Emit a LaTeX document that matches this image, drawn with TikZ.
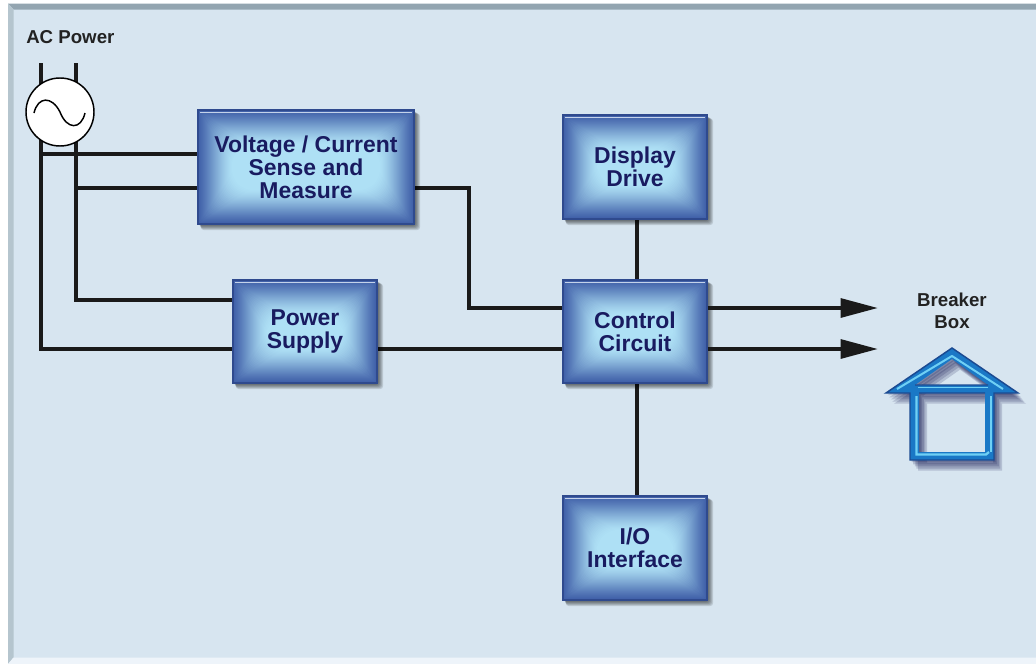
\documentclass[tikz,border=0pt]{standalone}
\usepackage{fontspec}
\setmainfont{Liberation Sans}
\usetikzlibrary{arrows.meta}
\definecolor{bgc}{HTML}{D7E5F0}
\definecolor{topband}{HTML}{93A5B0}
\definecolor{leftband}{HTML}{B5C5CE}
\definecolor{botband}{HTML}{EEF4FA}
\definecolor{boxlight}{HTML}{AEE0F5}
\definecolor{boxdark}{HTML}{3F5FA8}
\definecolor{boxedge}{HTML}{2F4A8E}
\definecolor{boxtop}{HTML}{C4D2EA}
\definecolor{navy}{HTML}{191B60}
\definecolor{wire}{HTML}{1A1A1A}
\definecolor{labelc}{HTML}{222222}
\definecolor{houseblue}{HTML}{1A78C6}
\definecolor{houseedge}{HTML}{1B4A92}
\definecolor{househi}{HTML}{6FD0F5}
\tikzset{
  wireline/.style={draw=wire,line width=3pt,line join=miter},
  boxtext/.style={font=\fontsize{17.2pt}{17.25pt}\selectfont\bfseries,text=navy,align=center,inner sep=0pt,draw=boxedge,line width=0.8pt},
  plainlabel/.style={font=\fontsize{14pt}{16.5pt}\selectfont\bfseries,text=labelc,align=center,inner sep=0pt},
  arrowline/.style={wireline,-{Triangle[length=28pt,width=14pt]},shorten >=0pt},
  source/.style={circle,draw=black,fill=white,line width=1.1pt,minimum size=51pt,inner sep=0pt}
}
\newcommand{\glowbox}[6]{%
  \foreach \s in {6,5,4,3,2,1}{
    \fill[black,opacity=0.12,rounded corners=2pt] ({#2+\s*0.5},{#3+\s*0.6}) rectangle ({#4+\s},{#5+\s});
  }
  \foreach \i in {0,1,...,34}{
    \pgfmathsetmacro{\u}{\i/34}
    \pgfmathsetmacro{\t}{100*sin(90*\u)*(0.55+0.45*\u)}
    \pgfmathsetmacro{\rc}{0.45*\i}
    \fill[boxlight!\t!boxdark,rounded corners=\rc pt] ({#2+\i},{#3+\i}) rectangle ({#4-\i},{#5-\i});
  }
  \draw[boxtop,line width=1.2pt] ({#2+2},{#3+2.5}) -- ({#4-2},{#3+2.5});
  \node[boxtext,minimum width={(#4-#2)*0.75pt},minimum height={(#5-#3)*0.75pt}] (#1) at ({(#2+#4)/2},{(#3+#5)/2}) {#6};
}
\begin{document}
\begin{tikzpicture}[x=0.75pt,y=-0.75pt]
\useasboundingbox (0,0) rectangle (1036,664);
% frame
\fill[white] (0,0) rectangle (1036,664);
\fill[bgc] (8,3.5) rectangle (1036,664);
\fill[topband] (8,3.5) -- (1036,3.5) -- (1036,9.5) -- (13.5,9.5) -- cycle;
\fill[leftband] (8,3.5) -- (13.5,9.5) -- (13.5,657.5) -- (8,664) -- cycle;
\fill[botband] (8,664) -- (13.5,657.5) -- (1036,657.5) -- (1036,664) -- cycle;
% junction points
\coordinate (acl) at (41,63);
\coordinate (acr) at (76,63);
\coordinate (jsa) at (41,154);
\coordinate (jsb) at (76,188);
\coordinate (jpa) at (76,300);
\coordinate (jpb) at (41,349);
\coordinate (bend) at (469,188);
\coordinate (bendb) at (469,308);
\coordinate (outa) at (878,308);
\coordinate (outb) at (878,349);
% wires
\draw[wireline] (acl) -- (jpb) -- (233,349);
\draw[wireline] (acr) -- (jpa) -- (233,300);
\draw[wireline] (jsa) -- (198,154);
\draw[wireline] (jsb) -- (198,188);
\draw[wireline] (377,349) -- (563,349);
\draw[wireline] (414,188) -- (bend) -- (bendb) -- (563,308);
\draw[wireline] (637,219) -- (637,280);
\draw[wireline] (637,383) -- (637,496);
% source
\node[source] (ac) at (60,112) {};
\draw[black,line width=1.1pt] (34,113) .. controls (38,96) and (52,96) .. (60,112)
   .. controls (67,130) and (81,130) .. (85,113);
% boxes
\glowbox{vc}{198}{110}{414}{224}{Voltage / Current\\Sense and\\Measure}
\glowbox{dd}{563}{115}{707}{219}{Display\\Drive}
\glowbox{cc}{563}{280}{707}{383}{Control\\Circuit}
\glowbox{ps}{233}{280}{377}{383}{Power\\Supply}
\glowbox{io}{563}{496}{707}{600}{I/O\\Interface}
% output arrows
\draw[arrowline] (cc.east |- outa) -- (outa);
\draw[arrowline] (cc.east |- outb) -- (outb);
% labels
\node[plainlabel,anchor=west] (aclabel) at (26,37) {AC Power};
\node[plainlabel] (bb) at (952,311) {Breaker\\Box};
% house
\foreach \s in {10,8,6,4,2}{
  \fill[black!75!blue,opacity=0.16,even odd rule,xshift=\s*0.6pt,yshift=-\s*0.8pt]
    (952,348) -- (1018,393) -- (994,393) -- (994,460) -- (910,460) -- (910,393) -- (886,393) -- cycle
    (952,359) -- (988,385) -- (915,385) -- cycle
    (919,393) -- (985,393) -- (985,452) -- (919,452) -- cycle;
}
\path[fill=houseblue,even odd rule]
    (952,348) -- (1018,393) -- (994,393) -- (994,460) -- (910,460) -- (910,393) -- (886,393) -- cycle
    (952,359) -- (988,385) -- (915,385) -- cycle
    (919,393) -- (985,393) -- (985,452) -- (919,452) -- cycle;
\draw[househi,line width=1.5pt,line join=round] (897,389) -- (952,356) -- (1003,389);
\draw[househi,line width=1.7pt] (916.5,396) -- (916.5,454.5) -- (986,454.5) -- (989,452);
\draw[househi,line width=1pt] (991,396) -- (991,452);
\draw[househi,line width=1pt] (918,387.5) -- (988,387.5);
\draw[houseedge,line width=1.1pt,line join=miter]
    (952,348) -- (1018,393) -- (994,393) -- (994,460) -- (910,460) -- (910,393) -- (886,393) -- cycle
    (915,385) -- (988,385)
    (919,393) -- (985,393);
\end{tikzpicture}
\end{document}
